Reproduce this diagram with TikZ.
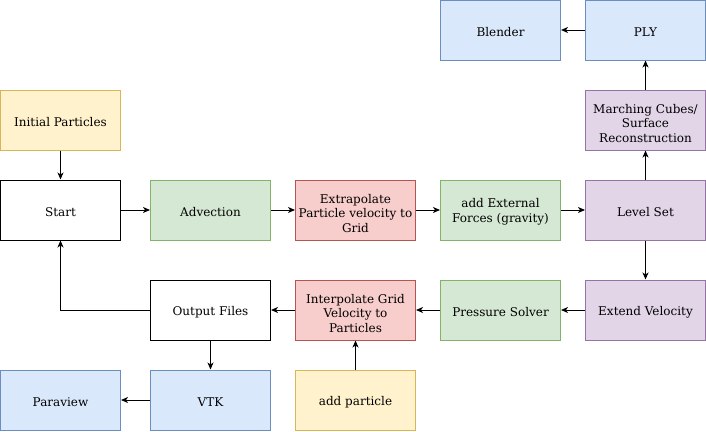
\documentclass[tikz,border=0pt]{standalone}
\usepackage{fontspec}
\setmainfont{DejaVu Serif}
\usetikzlibrary{arrows.meta}
\definecolor{yfill}{HTML}{FFF2CC}\definecolor{ydraw}{HTML}{D6B656}
\definecolor{gfill}{HTML}{D5E8D4}\definecolor{gdraw}{HTML}{82B366}
\definecolor{rfill}{HTML}{F8CECC}\definecolor{rdraw}{HTML}{B85450}
\definecolor{bfill}{HTML}{DAE8FC}\definecolor{bdraw}{HTML}{6C8EBF}
\definecolor{pfill}{HTML}{E1D5E7}\definecolor{pdraw}{HTML}{9673A6}
\newcommand{\tstrut}{\rule{0pt}{16pt}}
\newcommand{\dstrut}{\rule{0pt}{12.5pt}}
\tikzset{
  box/.style={draw, line width=1pt, minimum width=120pt, minimum height=60pt,
    align=center, inner sep=0pt, font=\fontsize{12}{14.5}\selectfont,
    execute at begin node={\rule{0pt}{13pt}}},
  wbox/.style={box, fill=white, draw=black},
  ybox/.style={box, fill=yfill, draw=ydraw},
  gbox/.style={box, fill=gfill, draw=gdraw},
  rbox/.style={box, fill=rfill, draw=rdraw},
  bbox/.style={box, fill=bfill, draw=bdraw},
  pbox/.style={box, fill=pfill, draw=pdraw},
  arr/.style={draw, line width=1pt, -{Stealth[length=7pt,width=6pt,inset=2pt]}},
}
\begin{document}
\begin{tikzpicture}[x=1pt,y=-1pt]
\useasboundingbox (0,0) rectangle (706,431);
\node[bbox] (blender) at (500.5,30) {Blender};
\node[bbox] (ply) at (645.5,30) {PLY};
\node[ybox] (init) at (60.5,120) {Initial Particles};
\node[pbox] (march) at (645.5,120) {\tstrut Marching Cubes/\\Surface\\Reconstruction};
\node[wbox] (start) at (60.5,210) {Start};
\node[gbox] (adv) at (210.5,210) {Advection};
\node[rbox] (extra) at (355.5,210) {\tstrut Extrapolate\\Particle velocity to\\Grid};
\node[gbox] (ext) at (500.5,210) {\dstrut add External\\Forces (gravity)};
\node[pbox] (level) at (645.5,210) {Level Set};
\node[wbox] (out) at (210.5,310) {Output Files};
\node[rbox] (interp) at (355.5,310) {\tstrut Interpolate Grid\\Velocity to\\Particles};
\node[gbox] (press) at (500.5,310) {Pressure Solver};
\node[pbox] (extv) at (645.5,310) {Extend Velocity};
\node[bbox] (para) at (60.5,400) {Paraview};
\node[bbox] (vtk) at (210.5,400) {VTK};
\node[ybox] (addp) at (355.5,400) {add particle};
\draw[arr] (init) -- (start);
\draw[arr] (start) -- (adv);
\draw[arr] (adv) -- (extra);
\draw[arr] (extra) -- (ext);
\draw[arr] (ext) -- (level);
\draw[arr] (level) -- (march);
\draw[arr] (march) -- (ply);
\draw[arr] (ply) -- (blender);
\draw[arr] (level) -- (extv);
\draw[arr] (extv) -- (press);
\draw[arr] (press) -- (interp);
\draw[arr] (interp) -- (out);
\draw[arr] (out.west) -| (start.south);
\draw[arr] (out) -- (vtk);
\draw[arr] (vtk) -- (para);
\draw[arr] (addp) -- (interp);
\end{tikzpicture}
\end{document}
